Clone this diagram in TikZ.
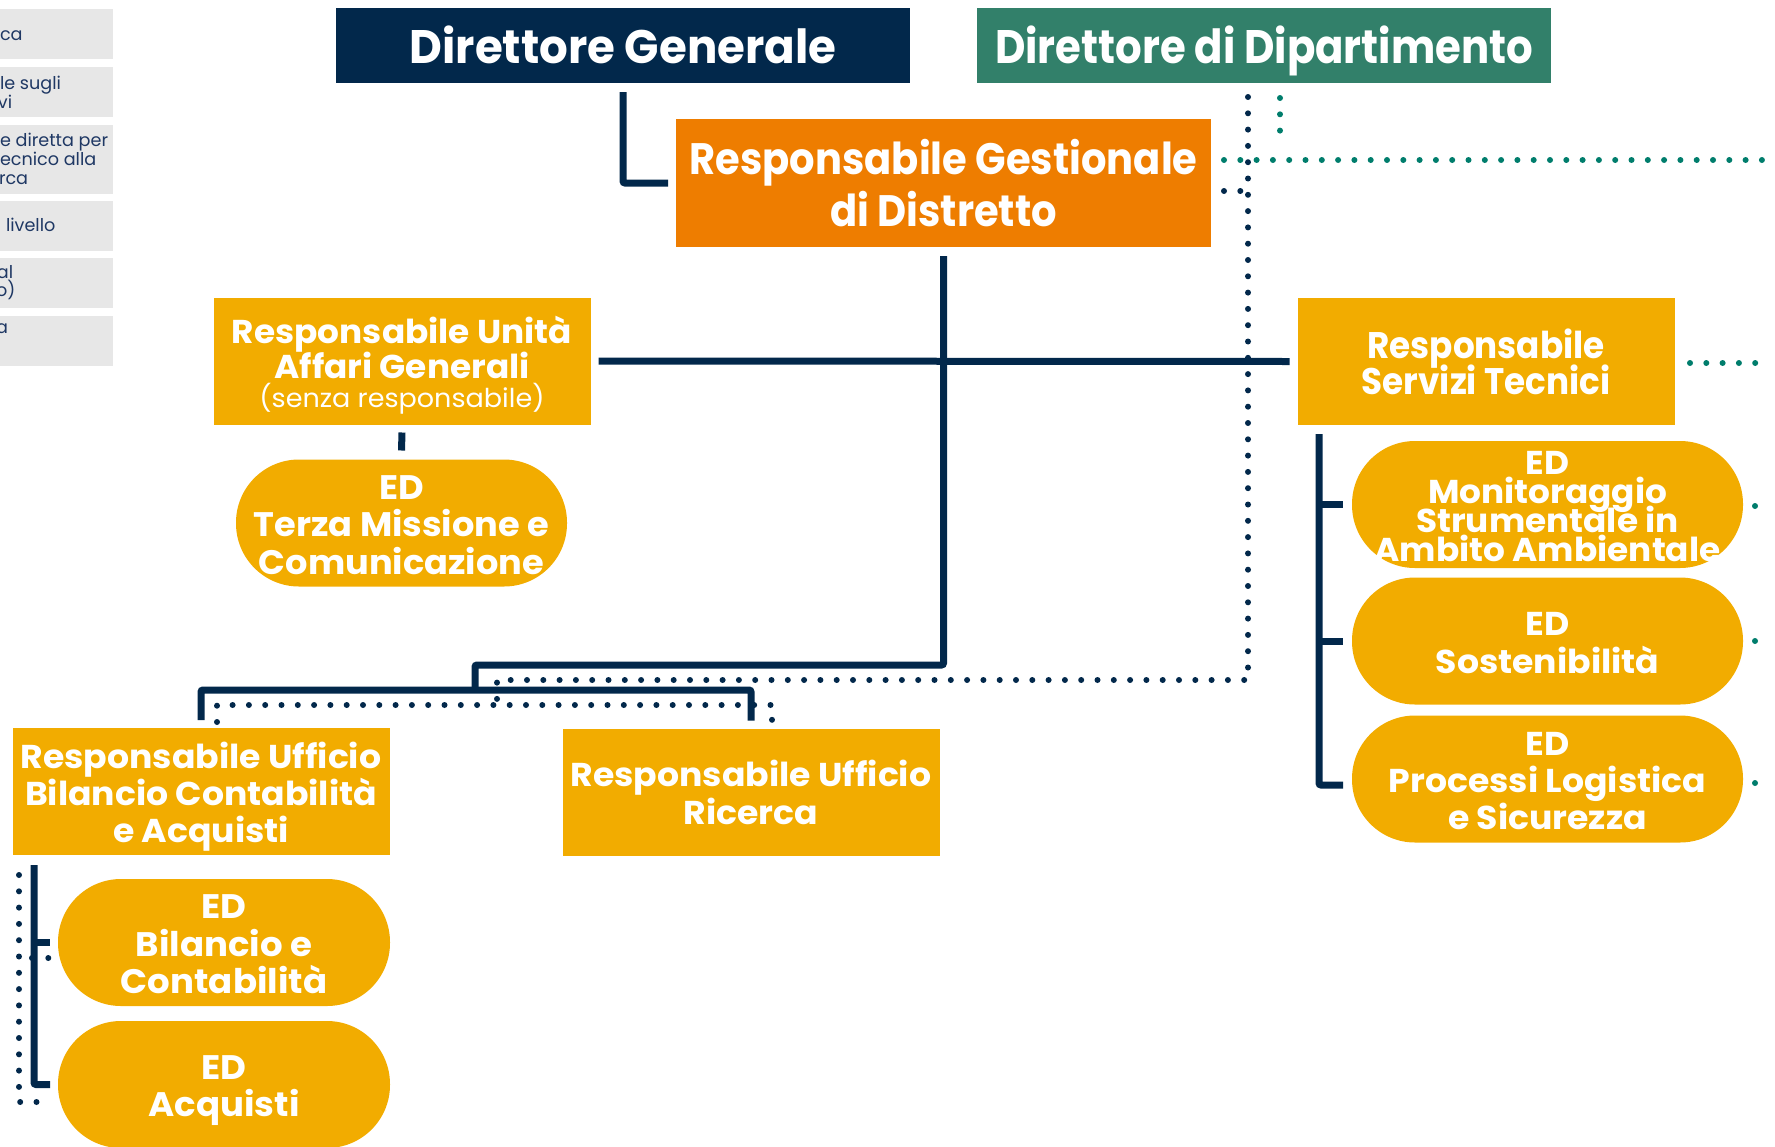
\documentclass[tikz,border=0pt]{standalone}
\usepackage{fontspec}
\setmainfont{Poppins}
\usetikzlibrary{calc}
\definecolor{navyc}{RGB}{2,40,75}
\definecolor{greenc}{RGB}{50,128,106}
\definecolor{tealc}{RGB}{0,125,108}
\definecolor{orangec}{RGB}{238,125,0}
\definecolor{goldc}{RGB}{242,172,0}
\definecolor{leggray}{RGB}{231,231,231}
\definecolor{legtext}{RGB}{31,56,100}
\newcommand\bstr[3]{\bfseries\fontsize{#1}{#2}\selectfont\addfontfeature{FakeStretch=#3}\lineskiplimit=-100pt\relax}
\tikzset{
  every node/.style={inner sep=0pt, outer sep=0pt},
  box/.style={rectangle},
  txt/.style={text=white, align=center},
  titlebox/.style={box, minimum width=574pt, minimum height=75pt},
  unitbox/.style={box, fill=goldc, minimum width=377pt, minimum height=127pt},
  pill/.style={rectangle, rounded corners=63pt, fill=goldc, minimum height=127pt},
  conn/.style={draw=navyc, line width=7pt, rounded corners=2pt},
  ndots/.style={draw=navyc, line width=6pt, line cap=round, dash pattern=on 0pt off 16.3pt},
  gdots/.style={ndots, draw=tealc},
  legbox/.style={rectangle, fill=leggray, minimum width=113pt},
  legtxt/.style={anchor=base west, text=legtext, font=\fontsize{17.6}{19}\selectfont}
}
\begin{document}
\begin{tikzpicture}[x=1pt,y=-1pt]
\useasboundingbox (0,0) rectangle (1775,1146);
\clip (0,0) rectangle (1775,1146);

% legend
\node[legbox, minimum height=50pt] (l1) at (56.5,34) {};
\node[legbox, minimum height=50pt] (l2) at (56.5,92) {};
\node[legbox, minimum height=69pt] (l3) at (56.5,159.5) {};
\node[legbox, minimum height=50pt] (l4) at (56.5,226) {};
\node[legbox, minimum height=50pt] (l5) at (56.5,283) {};
\node[legbox, minimum height=50pt] (l6) at (56.5,341) {};
\node[legtxt] (t1) at (0,40) {ca};
\node[legtxt] (t2a) at (0,89) {le sugli};
\node[legtxt] (t2b) at (-2,108) {vi};
\node[legtxt] (t3a) at (0,146.5) {e diretta per};
\node[legtxt] (t3b) at (0,165) {ecnico alla};
\node[legtxt] (t3c) at (-1,184) {rca};
\node[legtxt] (t4) at (6,231) {livello};
\node[legtxt] (t5a) at (-3,278) {al};
\node[legtxt] (t5b) at (-4,296) {o)};
\node[legtxt] (t6) at (-4,333) {a};

% top boxes
\node[titlebox, fill=navyc] (dg) at (623,45.5) {};
\node[txt, anchor=base, font=\bstr{47}{50}{0.96}] (dgT) at ([yshift=-18pt]dg.center) {Direttore Generale};
\node[titlebox, fill=greenc] (dd) at (1264,45.5) {};
\node[txt, anchor=base, font=\bstr{47}{50}{0.89}] (ddT) at ([yshift=-18pt]dd.center) {Direttore di Dipartimento};
\node[box, fill=orangec, minimum width=535pt, minimum height=128pt] (rgd) at (943.5,183) {};
\node[txt, font=\bstr{44}{52}{0.91}] (rgdT) at (rgd.center) {Responsabile Gestionale\\di Distretto};

% units
\node[unitbox] (ruag) at (402,361) {};
\node[txt, font=\bstr{33}{35}{1.04}] (ruagT) at ([yshift=-4pt]ruag.center)
  {Responsabile Unità\\Affari Generali\\[-6pt]{\mdseries\fontsize{26}{27}\selectfont(senza responsabile)}};
\node[unitbox] (rst) at (1486,361.5) {};
\node[txt, font=\bstr{37}{36}{0.925}] (rstT) at (rst.center) {Responsabile\\Servizi Tecnici};
\node[unitbox] (rubca) at (201,791.5) {};
\node[txt, font=\bstr{33}{37}{1.05}] (rubcaT) at ([yshift=-5pt]rubca.center)
  {Responsabile Ufficio\\Bilancio Contabilità\\e Acquisti};
\node[unitbox] (rur) at (751,792) {};
\node[txt, font=\bstr{33}{38}{1.05}] (rurT) at (rur.center) {Responsabile Ufficio\\Ricerca};

% pills
\node[pill, minimum width=331pt] (tm) at (401.5,523) {};
\node[txt, font=\bstr{34}{37.5}{1.035}] (tmT) at ([yshift=-2pt]tm.center) {ED\\Terza Missione e\\Comunicazione};
\node[pill, minimum width=391pt] (ed1) at (1547.5,504.5) {};
\node[txt, font=\bstr{33}{29}{1.04}] (ed1T) at ([yshift=-2pt]ed1.center) {ED\\Monitoraggio\\Strumentale in\\Ambito Ambientale};
\node[pill, minimum width=391pt] (ed2) at (1547.5,641) {};
\node[txt, font=\bstr{33}{38}{1.05}] (ed2T) at ([yshift=-2pt]ed2.center) {ED\\Sostenibilità};
\node[pill, minimum width=391pt] (ed3) at (1547.5,779) {};
\node[txt, font=\bstr{33}{37}{1.05}] (ed3T) at ([yshift=-2pt]ed3.center) {ED\\Processi Logistica\\e Sicurezza};
\node[pill, minimum width=332pt] (edbc) at (224,942.5) {};
\node[txt, font=\bstr{34}{37.5}{1.045}] (edbcT) at ([yshift=-2pt]edbc.center) {ED\\Bilancio e\\Contabilità};
\node[pill, minimum width=332pt] (edacq) at (224,1084.5) {};
\node[txt, font=\bstr{34}{37.5}{1.045}] (edacqT) at ([yshift=-6pt]edacq.center) {ED\\Acquisti};

% dotted lines (navy)
\coordinate (d0) at (1248,97);
\coordinate (d1) at (1248,680);
\coordinate (d2) at (497,680);
\coordinate (d3) at (497,705);
\draw[ndots] (d0) -- (d1) -- (d2) -- (d3);
\coordinate (e0) at (217,722);
\coordinate (e1) at (217,705);
\coordinate (e2) at (772,705);
\coordinate (e3) at (772,722);
\draw[ndots] (e0) -- (e1) -- (e2) -- (e3);
\coordinate (r0) at (1224,191);
\coordinate (r1) at (1241,191);
\draw[ndots] (r0) -- (r1);
\coordinate (f0) at (19,875);
\coordinate (f1) at (19,1102);
\coordinate (f2) at (50,1102);
\draw[ndots] (f0) -- (f1) -- (f2);
\coordinate (g0) at (32,958);
\coordinate (g1) at (49,958);
\draw[ndots] (g0) -- (g1);

% dotted lines (teal)
\coordinate (h0) at (1280,98);
\coordinate (h1) at (1280,132);
\draw[gdots] (h0) -- (h1);
\coordinate (k0) at (1224,160);
\coordinate (k1) at (1780,160);
\draw[gdots] (k0) -- (k1);
\coordinate (m0) at (1690,363);
\coordinate (m1) at (1757,363);
\draw[gdots] (m0) -- (m1);
\fill[tealc] (1755,506) circle (3pt);
\fill[tealc] (1755,641) circle (3pt);
\fill[tealc] (1755,783) circle (3pt);

% solid connectors
\draw[conn] ([yshift=-9pt]dg.south) |- ([xshift=-8pt]rgd.west);
\coordinate (j1) at (475,665);
\coordinate (j2) at (475,690);
\draw[conn] ([yshift=-9pt]rgd.south) |- (j1) -- (j2);
\draw[conn] ([yshift=8pt]rubca.north) |- (j2) -| ([yshift=8pt]rur.north);
\draw[conn] ([xshift=8pt]ruag.east) -- ([xshift=-8pt]rst.west);
\draw[conn] ([yshift=-8pt]ruag.south) -- ([yshift=9pt]tm.north);
\coordinate (br0) at (1319,434);
\draw[conn] (br0) |- ([xshift=-9pt,yshift=-6pt]ed3.west);
\draw[conn] (br0 |- ed1.west) -- ([xshift=-9pt]ed1.west);
\draw[conn] (br0 |- ed2.west) -- ([xshift=-9pt]ed2.west);
\coordinate (bl0) at (34,865);
\draw[conn] (bl0) |- ([xshift=-8pt]edacq.west);
\draw[conn] (bl0 |- edbc.west) -- ([xshift=-8pt]edbc.west);
\end{tikzpicture}
\end{document}
